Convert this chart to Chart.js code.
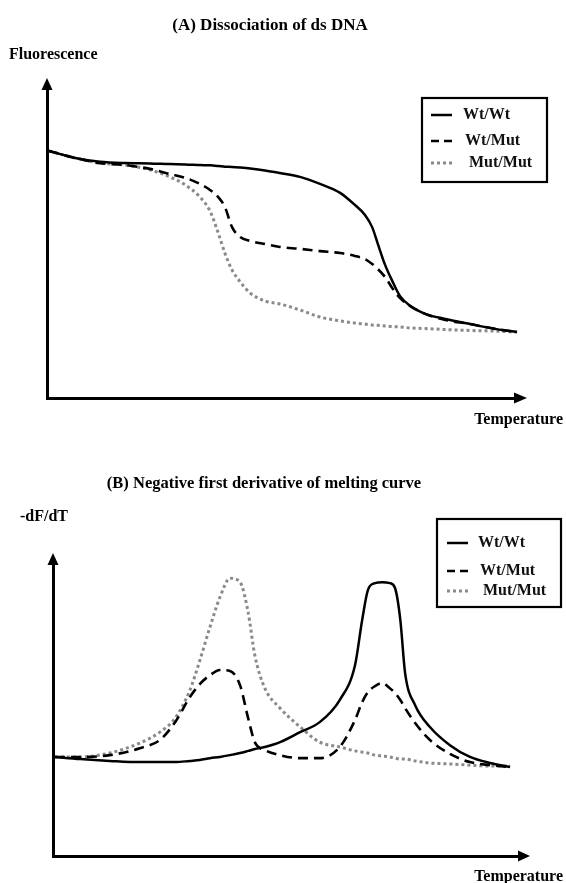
<!DOCTYPE html>
<html><head><meta charset="utf-8">
<script src="https://cdn.jsdelivr.net/npm/chart.js@4.4.1/dist/chart.umd.min.js"></script>
<style>
html,body{margin:0;padding:0;background:#fff;width:566px;height:883px;overflow:hidden}
#ca{position:absolute;left:0;top:0}
#cb{position:absolute;left:0;top:440px}
</style></head><body>
<canvas id="ca" width="566" height="440"></canvas>
<canvas id="cb" width="566" height="443"></canvas>
<script>
// ---------- data (arbitrary units) ----------
const seriesLabels = ['Wt/Wt', 'Wt/Mut', 'Mut/Mut'];

// Panel A: fluorescence vs temperature
const tempA = [0.4, 5.9, 11.1, 16.3, 21.5, 25.7, 28.9, 32.0, 34.1, 35.8, 37.2, 38.7, 40.4, 42.5, 45.6, 48.7,
  52.9, 57.1, 61.3, 64.4, 66.5, 68.0, 69.2, 70.7, 72.2, 73.8, 75.9, 79.1, 83.3, 88.5, 93.7, 98.3];
const wtwtA = [77.2, 75.0, 73.8, 73.4, 73.3, 73.1, 73.0, 72.8, 72.7, 72.5, 72.3, 72.2, 72.0, 71.7, 71.1, 70.3,
  69.1, 66.9, 64.1, 60.3, 57.2, 53.4, 48.1, 41.6, 36.6, 31.9, 28.8, 26.3, 24.7, 23.1, 21.6, 20.6];
const wtmutA = [77.2, 75.0, 73.4, 72.8, 71.6, 70.0, 68.8, 66.9, 65.0, 62.8, 59.7, 53.4, 50.3, 49.1, 48.1, 47.2,
  46.6, 45.9, 45.3, 44.4, 43.4, 41.9, 40.3, 37.8, 34.4, 31.3, 28.8, 26.3, 24.4, 23.1, 21.6, 20.6];
const mutmutA = [77.2, 75.0, 73.4, 72.8, 71.3, 69.1, 66.6, 62.8, 58.4, 51.6, 45.3, 40.0, 36.3, 32.8, 30.3, 29.4,
  27.5, 25.3, 24.1, 23.4, 23.1, 22.8, 22.7, 22.5, 22.3, 22.2, 21.9, 21.7, 21.4, 21.1, 20.9, 20.6];

// Panel B: -dF/dT vs temperature
const tempB = [0.4, 5.7, 11.9, 18.2, 22.4, 25.6, 28.7, 30.8, 32.9, 35.0, 37.1, 39.2, 40.9, 42.3, 44.4, 47.6, 51.8,
  55.9, 60.1, 63.3, 64.8, 66.0, 67.5, 69.0, 70.6, 71.7, 72.8, 73.8, 75.9, 79.0, 83.2, 87.4, 91.6, 95.8];
const wtwtB = [32.7, 32.0, 31.4, 31.0, 31.0, 31.0, 31.4, 31.7, 32.3, 32.7, 33.3, 34.0, 34.7, 35.3, 36.0, 37.6, 40.9,
  44.2, 51.5, 63.0, 77.9, 87.8, 90.1, 90.4, 90.1, 88.4, 77.9, 60.4, 49.8, 42.6, 36.6, 32.7, 30.7, 29.4];
const wtmutB = [32.7, 32.7, 33.3, 35.6, 38.3, 44.2, 52.5, 56.8, 59.7, 61.4, 61.1, 56.4, 45.5, 37.6, 35.0, 33.3, 32.3,
  32.3, 36.0, 44.9, 50.8, 54.1, 56.1, 57.1, 55.4, 53.8, 51.5, 48.8, 43.9, 38.3, 33.7, 31.0, 30.0, 29.4];
const mutmutB = [32.7, 32.7, 34.0, 37.3, 40.9, 45.5, 54.8, 64.7, 75.6, 85.5, 91.7, 90.4, 80.5, 66.3, 55.4, 48.8, 42.6,
  37.6, 36.0, 34.7, 34.3, 34.0, 33.3, 33.0, 32.7, 32.3, 32.0, 32.0, 31.4, 30.7, 30.4, 30.0, 29.7, 29.7];

// ---------- styles ----------
const styles = [
  { borderColor: '#000', borderWidth: 2.5, borderDash: [] },
  { borderColor: '#000', borderWidth: 2.6, borderDash: [10, 6] },
  { borderColor: '#8a8a8a', borderWidth: 3, borderDash: [3, 3] }
];
const FONT = '"Liberation Serif", "Times New Roman", serif';

function pts(xs, ys) { return xs.map((x, i) => ({ x: x, y: ys[i] })); }

function makeDatasets(xs, list) {
  return list.map((ys, i) => Object.assign({
    label: seriesLabels[i],
    data: pts(xs, ys),
    pointRadius: 0,
    fill: false,
    cubicInterpolationMode: 'monotone'
  }, styles[i]));
}

function decor(cfg) {
  return {
    id: 'decor',
    afterDraw(chart) {
      const ctx = chart.ctx, a = chart.chartArea;
      ctx.save();
      ctx.fillStyle = '#000';
      // y arrow
      ctx.beginPath();
      ctx.moveTo(a.left, a.top - cfg.tipUp);
      ctx.lineTo(a.left - 5.5, a.top + 4);
      ctx.lineTo(a.left + 5.5, a.top + 4);
      ctx.closePath(); ctx.fill();
      // x arrow
      ctx.beginPath();
      ctx.moveTo(a.right + cfg.tipRight, a.bottom);
      ctx.lineTo(a.right - 4, a.bottom - 5.5);
      ctx.lineTo(a.right - 4, a.bottom + 5.5);
      ctx.closePath(); ctx.fill();
      // texts
      ctx.textBaseline = 'middle';
      ctx.font = 'bold ' + cfg.titleSize + 'px ' + FONT;
      ctx.textAlign = 'center';
      ctx.fillText(cfg.title, cfg.titleX, cfg.titleY);
      ctx.font = 'bold 16px ' + FONT;
      ctx.textAlign = 'left';
      ctx.fillText(cfg.yLabel, cfg.yLabelX, cfg.yLabelY);
      ctx.textAlign = 'right';
      ctx.fillText(cfg.xLabel, cfg.xLabelX, cfg.xLabelY);
      // legend
      const L = cfg.legend;
      ctx.lineWidth = 2.2;
      ctx.strokeStyle = '#000';
      ctx.strokeRect(L.x, L.y, L.w, L.h);
      ctx.textAlign = 'left';
      ctx.font = 'bold 16px ' + FONT;
      chart.data.datasets.forEach((ds, i) => {
        const yy = L.rows[i];
        ctx.save();
        ctx.strokeStyle = ds.borderColor;
        ctx.lineWidth = ds.borderWidth;
        ctx.setLineDash(i === 1 ? [8, 5] : ds.borderDash);
        ctx.beginPath();
        ctx.moveTo(L.sx0, yy); ctx.lineTo(L.sx1, yy);
        ctx.stroke();
        ctx.restore();
        ctx.fillStyle = '#111';
        ctx.fillText(ds.label, L.tx[i], yy);
      });
      ctx.restore();
    }
  };
}

function makeChart(id, xs, list, pad, xmax, ymax, cfg) {
  return new Chart(document.getElementById(id), {
    type: 'line',
    data: { datasets: makeDatasets(xs, list) },
    options: {
      responsive: false,
      animation: false,
      devicePixelRatio: 1,
      layout: { padding: pad },
      plugins: { legend: { display: false }, tooltip: { enabled: false }, title: { display: false } },
      scales: {
        x: {
          type: 'linear', min: 0, max: xmax,
          grid: { display: false, drawTicks: false },
          ticks: { display: false },
          border: { display: true, color: '#000', width: 3 },
          afterFit: s => { s.height = 0; }
        },
        y: {
          type: 'linear', min: 0, max: ymax,
          grid: { display: false, drawTicks: false },
          ticks: { display: false },
          border: { display: true, color: '#000', width: 3 },
          afterFit: s => { s.width = 0; }
        }
      }
    },
    plugins: [decor(cfg)]
  });
}

makeChart('ca', tempA, [wtwtA, wtmutA, mutmutA],
  { left: 47, right: 48, top: 86, bottom: 42 }, 98.5, 97.5, {
    title: '(A) Dissociation of ds DNA', titleSize: 17, titleX: 270, titleY: 26,
    yLabel: 'Fluorescence', yLabelX: 9, yLabelY: 55,
    xLabel: 'Temperature', xLabelX: 563, xLabelY: 420,
    tipUp: 8, tipRight: 9,
    legend: { x: 422, y: 98, w: 125, h: 84, rows: [115, 141, 163], sx0: 431, sx1: 452, tx: [463, 465, 469] }
  });

makeChart('cb', tempB, [wtwtB, wtmutB, mutmutB],
  { left: 53, right: 44, top: 121, bottom: 27 }, 98.3, 97.4, {
    title: '(B) Negative first derivative of melting curve', titleSize: 16.5, titleX: 264, titleY: 44,
    yLabel: '-dF/dT', yLabelX: 20, yLabelY: 77,
    xLabel: 'Temperature', xLabelX: 563, xLabelY: 437,
    tipUp: 8, tipRight: 8,
    legend: { x: 437, y: 79, w: 124, h: 88, rows: [103, 131, 151], sx0: 447, sx1: 468, tx: [478, 480, 483] }
  });
</script>
</body></html>
